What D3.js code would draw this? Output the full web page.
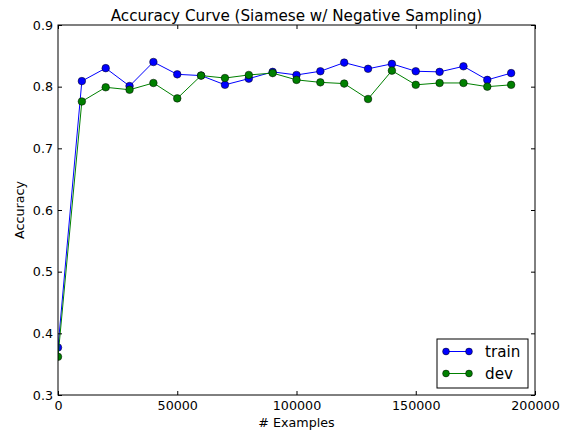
<!DOCTYPE html>
<html>
<head>
<meta charset="utf-8">
<script src="https://cdn.jsdelivr.net/npm/d3@7"></script>
<style>
  body { margin: 0; background: #fff; }
  svg { font-family: "DejaVu Sans", sans-serif; }
</style>
</head>
<body>
<div id="chart"></div>
<script>
// values
var examples = [0, 10000, 20000, 30000, 40000, 50000, 60000, 70000, 80000, 90000,
    100000, 110000, 120000, 130000, 140000, 150000, 160000, 170000, 180000, 190000];
var trainAcc = [0.377, 0.809, 0.830, 0.801, 0.840, 0.820, 0.818, 0.803, 0.813, 0.824,
    0.819, 0.825, 0.839, 0.829, 0.837, 0.825, 0.824, 0.833, 0.811, 0.822];
var devAcc = [0.362, 0.776, 0.799, 0.795, 0.806, 0.781, 0.818, 0.814, 0.819, 0.822,
    0.811, 0.807, 0.805, 0.780, 0.826, 0.803, 0.806, 0.806, 0.800, 0.803];
var xTicks = [0, 50000, 100000, 150000, 200000];
var yTicks = [0.3, 0.4, 0.5, 0.6, 0.7, 0.8, 0.9];

var series = [
    { name: "train", values: trainAcc, color: "#0000ff" },
    { name: "dev", values: devAcc, color: "#008000" }
];

var svg = d3.select("#chart").append("svg").attr("width", 571).attr("height", 433);

var margin = { top: 25, right: 36, bottom: 38, left: 58 };
var width = 571 - margin.left - margin.right;
var height = 433 - margin.top - margin.bottom;
var g = svg.append("g").attr("transform", "translate(" + margin.left + "," + margin.top + ")");

var x = d3.scaleLinear().domain([0, 200000]).range([0, width]);
var y = d3.scaleLinear().domain([0.3, 0.9]).range([height, 0]);

g.append("clipPath").attr("id", "plotClip")
    .append("rect").attr("width", width).attr("height", height);

var line = d3.line()
    .x(function (d, i) { return x(examples[i]); })
    .y(function (d) { return y(d); });

var plot = g.append("g").attr("clip-path", "url(#plotClip)");

series.forEach(function (s) {
    var sg = plot.append("g");
    sg.append("path")
        .datum(s.values)
        .attr("fill", "none")
        .attr("stroke", s.color)
        .attr("stroke-width", 1)
        .attr("d", line);
    sg.selectAll("circle")
        .data(s.values)
        .enter().append("circle")
        .attr("cx", function (d, i) { return x(examples[i]); })
        .attr("cy", function (d) { return y(d); })
        .attr("r", 3.8)
        .attr("fill", s.color)
        .attr("stroke", "#000")
        .attr("stroke-width", 0.5);
});

// axes: ticks point inward on all four sides
function styleAxis(sel) {
    sel.select(".domain").remove();
    sel.selectAll("line").attr("stroke", "#000").attr("stroke-width", 1);
    sel.selectAll("text").attr("fill", "#000").style("font-size", "12.7px")
        .style("font-family", "DejaVu Sans, sans-serif");
}

var xAxis = g.append("g").attr("transform", "translate(0," + height + ")")
    .call(d3.axisBottom(x).tickValues(xTicks).tickFormat(d3.format("d")).tickSizeInner(-4).tickPadding(6));
styleAxis(xAxis);

var xTop = g.append("g")
    .call(d3.axisTop(x).tickValues(xTicks).tickSizeInner(-4).tickFormat(""));
styleAxis(xTop);

var yAxis = g.append("g")
    .call(d3.axisLeft(y).tickValues(yTicks).tickFormat(d3.format(".1f")).tickSizeInner(-4).tickPadding(5));
styleAxis(yAxis);

var yRight = g.append("g").attr("transform", "translate(" + width + ",0)")
    .call(d3.axisRight(y).tickValues(yTicks).tickSizeInner(-4).tickFormat(""));
styleAxis(yRight);

g.append("rect")
    .attr("width", width).attr("height", height)
    .attr("fill", "none").attr("stroke", "#000").attr("stroke-width", 1);

// title and labels
svg.append("text")
    .attr("x", margin.left + width / 2).attr("y", 21)
    .attr("text-anchor", "middle")
    .style("font-size", "15.2px")
    .text("Accuracy Curve (Siamese w/ Negative Sampling)");

svg.append("text")
    .attr("x", margin.left + width / 2).attr("y", 427)
    .attr("text-anchor", "middle")
    .style("font-size", "12.7px")
    .text("# Examples");

svg.append("text")
    .attr("transform", "translate(24," + (margin.top + height / 2) + ") rotate(-90)")
    .attr("text-anchor", "middle")
    .style("font-size", "12.7px")
    .text("Accuracy");

// legend
var lg = svg.append("g").attr("transform", "translate(437,339)");
lg.append("rect").attr("width", 91).attr("height", 49)
    .attr("fill", "#fff").attr("stroke", "#000").attr("stroke-width", 1);
series.forEach(function (s, i) {
    var ly = 12.5 + i * 22;
    lg.append("line").attr("x1", 9).attr("x2", 32).attr("y1", ly).attr("y2", ly)
        .attr("stroke", s.color).attr("stroke-width", 1);
    [9, 32].forEach(function (cx) {
        lg.append("circle").attr("cx", cx).attr("cy", ly).attr("r", 3.4)
            .attr("fill", s.color).attr("stroke", "#000").attr("stroke-width", 0.5);
    });
    lg.append("text").attr("x", 48).attr("y", ly + 5)
        .style("font-size", "15.2px")
        .text(s.name);
});
</script>
</body>
</html>
